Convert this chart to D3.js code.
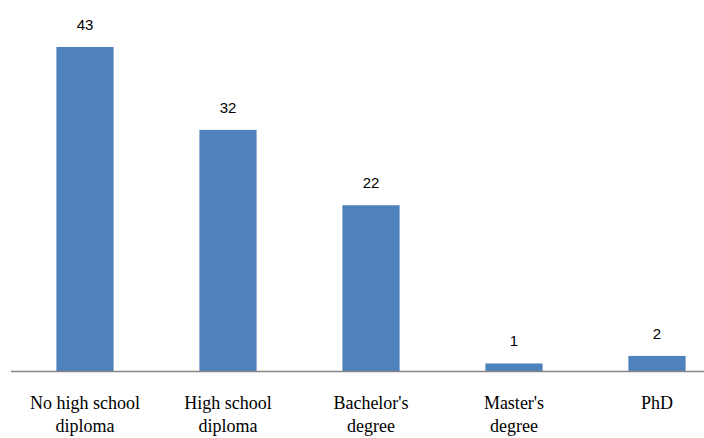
<!DOCTYPE html>
<html><head><meta charset="utf-8">
<script src="https://cdn.jsdelivr.net/npm/d3@7"></script>
<style>body{margin:0;background:#fff}svg{display:block}</style>
</head><body>
<script>
const categories = [["No high school","diploma"],["High school","diploma"],["Bachelor's","degree"],["Master's","degree"],["PhD"]];
const values = [43, 32, 22, 1, 2];

const W = 704, H = 438;
const svg = d3.select("body").append("svg").attr("width", W).attr("height", H)
  .style("font-family", '"Liberation Serif"');
const x = d3.scaleBand().domain(d3.range(values.length)).range([13.5, 728.5]).paddingInner(0.6).paddingOuter(0.3);
const y = d3.scaleLinear().domain([0, 43]).range([371, 47]);

svg.selectAll("rect").data(values).join("rect")
  .attr("x", (d,i)=>x(i)).attr("width", x.bandwidth())
  .attr("y", d=>y(d)).attr("height", d=>y(0)-y(d))
  .attr("fill", "#4f81bd");

svg.append("line").attr("x1", 11).attr("x2", W).attr("y1", y(0)+0.5).attr("y2", y(0)+0.5)
  .attr("stroke", "#868686").attr("stroke-width", 1.5);

const gv = svg.append("g");
gv.selectAll("text").data(values).join("text")
  .attr("x", (d,i)=>x(i)+x.bandwidth()/2).attr("y", d=>y(d)-17)
  .style("text-anchor","middle")
  .style("font-family",'"Liberation Sans"').style("font-size","15px")
  .text(d=>d);

const lines = [];
categories.forEach((c,i)=>c.forEach((t,j)=>lines.push({i, j, t})));
const gc = svg.append("g");
gc.selectAll("text").data(lines).join("text")
  .attr("x", d=>x(d.i)+x.bandwidth()/2).attr("y", d=>409 + d.j*23)
  .style("text-anchor","middle")
  .style("font-family",'"Liberation Serif"').style("font-size","18px")
  .text(d=>d.t);
</script>
</body></html>
